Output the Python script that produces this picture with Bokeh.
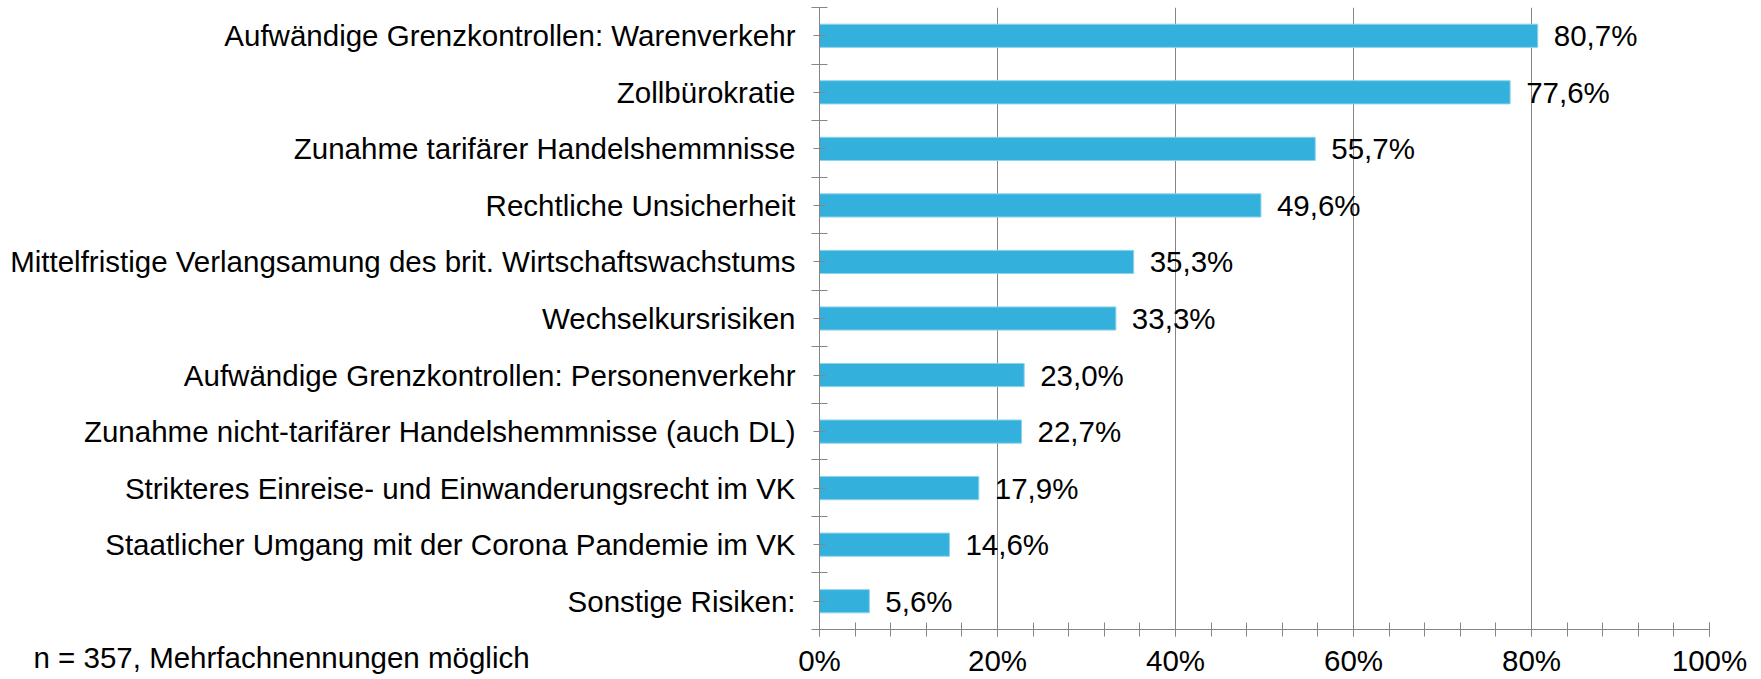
from bokeh.plotting import figure
from bokeh.models import Range1d, FixedTicker, Title, ColumnDataSource
from bokeh.core.properties import value
from bokeh.embed import file_html
from bokeh.resources import INLINE

categories = [
    "Aufwändige Grenzkontrollen: Warenverkehr",
    "Zollbürokratie",
    "Zunahme tarifärer Handelshemmnisse",
    "Rechtliche Unsicherheit",
    "Mittelfristige Verlangsamung des brit. Wirtschaftswachstums",
    "Wechselkursrisiken",
    "Aufwändige Grenzkontrollen: Personenverkehr",
    "Zunahme nicht-tarifärer Handelshemmnisse (auch DL)",
    "Strikteres Einreise- und Einwanderungsrecht im VK",
    "Staatlicher Umgang mit der Corona Pandemie im VK",
    "Sonstige Risiken:",
]
values = [80.7, 77.6, 55.7, 49.6, 35.3, 33.3, 23.0, 22.7, 17.9, 14.6, 5.6]
x_ticks = [0, 20, 40, 60, 80, 100]
x_tick_labels = ["0%", "20%", "40%", "60%", "80%", "100%"]
x_minor = list(range(0, 101, 4))
note = "n = 357, Mehrfachnennungen möglich"

FONT = "Liberation Sans"
FS = "29.5px"
GRAY = "#868686"
BAR = "#33B0DC"

pos = list(range(len(categories)))
labels = [f"{v:.1f}".replace(".", ",") + "%" for v in values]
src = ColumnDataSource(dict(y=pos, v=values, lab=labels))

p = figure(width=1761, height=679, output_backend="svg", toolbar_location=None,
           x_range=Range1d(0, 100), y_range=Range1d(len(categories) - 0.5, -0.5),
           min_border_left=819, min_border_right=52, min_border_top=7,
           min_border_bottom=49)
p.outline_line_color = None
p.background_fill_color = "white"
p.border_fill_color = "white"

p.hbar(y="y", right="v", left=0, height=0.41, source=src,
       fill_color=BAR, line_color="#8ed2ec", line_width=1)
p.text(x="v", y="y", text="lab", source=src, x_offset=16,
       text_baseline="middle", text_align="left",
       text_font=value(FONT), text_font_size=FS, text_color="black")

# x axis
xa = p.xaxis[0]
xa.ticker = FixedTicker(ticks=x_ticks, minor_ticks=x_minor)
xa.major_label_overrides = {t: l for t, l in zip(x_ticks, x_tick_labels)}
xa.axis_line_color = GRAY
xa.major_tick_line_color = GRAY
xa.minor_tick_line_color = GRAY
xa.major_tick_in = 7
xa.major_tick_out = 7
xa.minor_tick_in = 7
xa.minor_tick_out = 7
xa.major_label_standoff = 7
xa.major_label_text_font = FONT
xa.major_label_text_font_size = FS
xa.major_label_text_color = "black"

# y axis
ya = p.yaxis[0]
ya.ticker = FixedTicker(ticks=pos, minor_ticks=[i - 0.5 for i in range(len(categories) + 1)])
ya.major_label_overrides = {i: c for i, c in zip(pos, categories)}
ya.axis_line_color = GRAY
ya.major_tick_line_color = GRAY
ya.minor_tick_line_color = GRAY
ya.major_tick_in = 6
ya.major_tick_out = 6
ya.minor_tick_in = 8
ya.minor_tick_out = 8
ya.major_label_standoff = 16
ya.major_label_text_font = FONT
ya.major_label_text_font_size = FS
ya.major_label_text_color = "black"

p.xgrid.grid_line_color = GRAY
p.xgrid.grid_line_width = 1
p.ygrid.grid_line_color = None

# footnote (zero-size side panel entry so it does not shrink the plot area)
p.add_layout(Title(text=note, align="left", vertical_align="top", offset=-786,
                   standoff=-78, text_font=FONT, text_font_size=FS,
                   text_font_style="normal", text_color="black"), "below")

open("out.html", "w").write(file_html(p, INLINE))
